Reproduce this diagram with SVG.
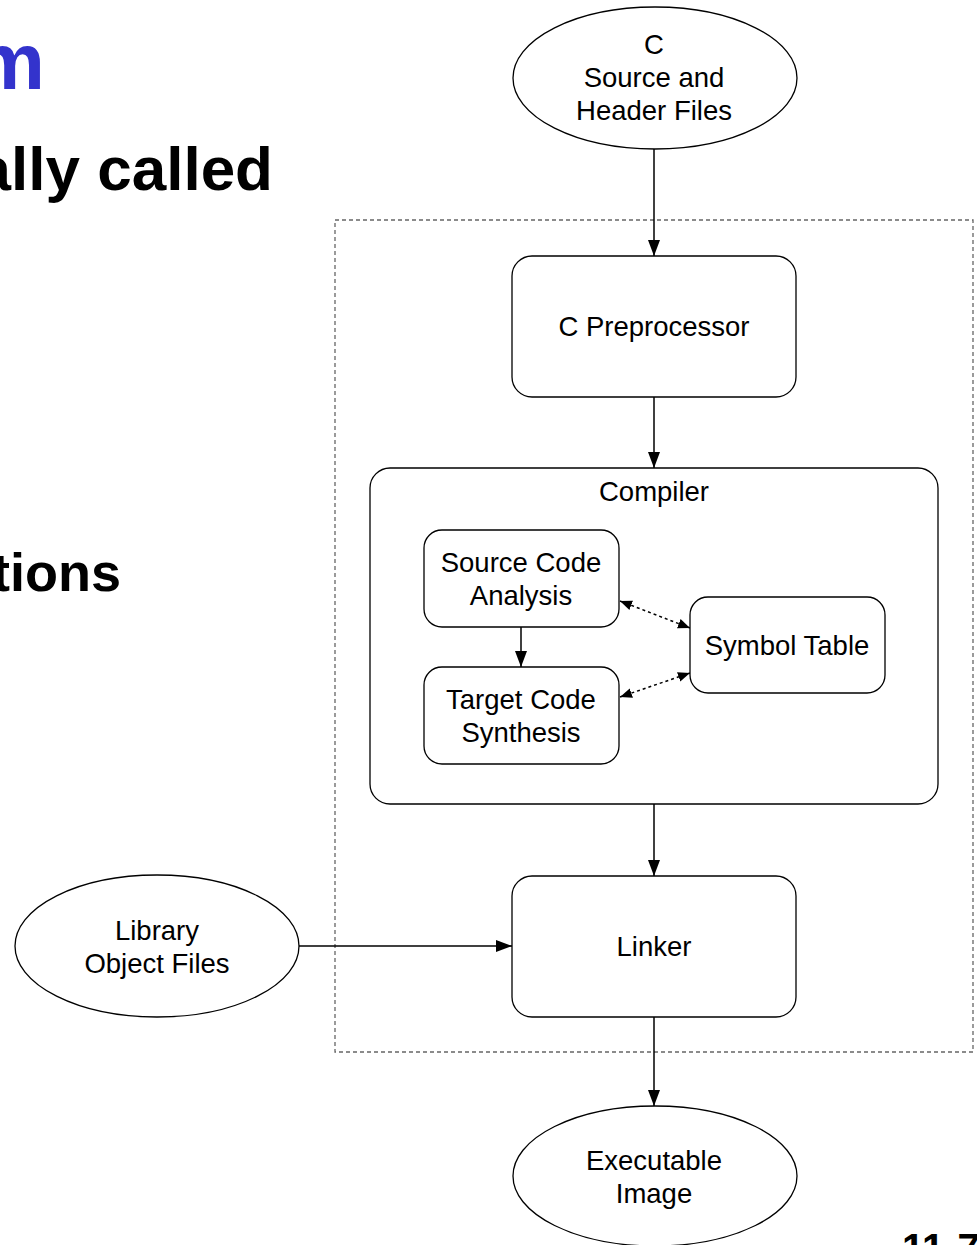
<svg xmlns="http://www.w3.org/2000/svg" width="977" height="1245" viewBox="0 0 977 1245">
<defs>
<style>
.n{fill:#fff;stroke:#000;stroke-width:1.3}
.t{font-family:"Liberation Sans",Arial,sans-serif;font-size:27.5px;fill:#000;text-anchor:middle}
.b{font-family:"Liberation Sans",Arial,sans-serif;font-weight:bold;fill:#000}
.c{stroke:#000;stroke-width:1.5;fill:none}
.d{stroke:#000;stroke-width:1.5;fill:none;stroke-dasharray:3,3}
</style>
<marker id="ah" viewBox="0 0 16 12" refX="16" refY="6" markerWidth="16" markerHeight="12" markerUnits="userSpaceOnUse" orient="auto">
<path d="M0,0 L16,6 L0,12 Z" fill="#000"/>
</marker>
<marker id="sh" viewBox="0 0 12 10" refX="12" refY="5" markerWidth="12" markerHeight="10" markerUnits="userSpaceOnUse" orient="auto-start-reverse">
<path d="M0,0 L12,5 L0,10 Z" fill="#000"/>
</marker>
</defs>
<rect width="977" height="1245" fill="#fff"/>
<text class="b" x="45" y="89" font-size="80" style="fill:#3333CC" text-anchor="end">m</text>
<text class="b" x="273" y="190" font-size="62" text-anchor="end">ally called</text>
<text class="b" x="121" y="591" font-size="54" text-anchor="end">tions</text>
<text class="b" x="902" y="1262" font-size="40">11-7</text>

<rect x="335" y="220" width="638" height="832" fill="none" stroke="#666" stroke-width="1.3" stroke-dasharray="4,3"/>

<g id="compiler">
<rect class="n" x="370" y="468" width="568" height="336" rx="20"/>
<text class="t" x="654" y="501">Compiler</text>
</g>

<g id="connectors">
<line class="c" x1="654" y1="149" x2="654" y2="256" marker-end="url(#ah)"/>
<line class="c" x1="654" y1="397" x2="654" y2="468" marker-end="url(#ah)"/>
<line class="c" x1="521" y1="627" x2="521" y2="667" marker-end="url(#ah)"/>
<line class="d" x1="620" y1="601" x2="690" y2="628" marker-start="url(#sh)" marker-end="url(#sh)"/>
<line class="d" x1="620" y1="697" x2="690" y2="673" marker-start="url(#sh)" marker-end="url(#sh)"/>
<line class="c" x1="654" y1="804" x2="654" y2="876" marker-end="url(#ah)"/>
<line class="c" x1="299" y1="946" x2="512" y2="946" marker-end="url(#ah)"/>
<line class="c" x1="654" y1="1017" x2="654" y2="1106" marker-end="url(#ah)"/>
</g>

<g id="source">
<ellipse class="n" cx="655" cy="78" rx="142" ry="71"/>
<text class="t" x="654" y="54">C</text>
<text class="t" x="654" y="87">Source and</text>
<text class="t" x="654" y="120">Header Files</text>
</g>
<g id="preprocessor">
<rect class="n" x="512" y="256" width="284" height="141" rx="20"/>
<text class="t" x="654" y="336">C Preprocessor</text>
</g>
<g id="sca">
<rect class="n" x="424" y="530" width="195" height="97" rx="18"/>
<text class="t" x="521" y="572">Source Code</text>
<text class="t" x="521" y="605">Analysis</text>
</g>
<g id="tcs">
<rect class="n" x="424" y="667" width="195" height="97" rx="18"/>
<text class="t" x="521" y="709">Target Code</text>
<text class="t" x="521" y="742">Synthesis</text>
</g>
<g id="symtab">
<rect class="n" x="690" y="597" width="195" height="96" rx="18"/>
<text class="t" x="787" y="655">Symbol Table</text>
</g>
<g id="linker">
<rect class="n" x="512" y="876" width="284" height="141" rx="20"/>
<text class="t" x="654" y="956">Linker</text>
</g>
<g id="library">
<ellipse class="n" cx="157" cy="946" rx="142" ry="71"/>
<text class="t" x="157" y="940">Library</text>
<text class="t" x="157" y="973">Object Files</text>
</g>
<g id="executable">
<ellipse class="n" cx="655" cy="1176" rx="142" ry="70"/>
<text class="t" x="654" y="1170">Executable</text>
<text class="t" x="654" y="1203">Image</text>
</g>
</svg>
